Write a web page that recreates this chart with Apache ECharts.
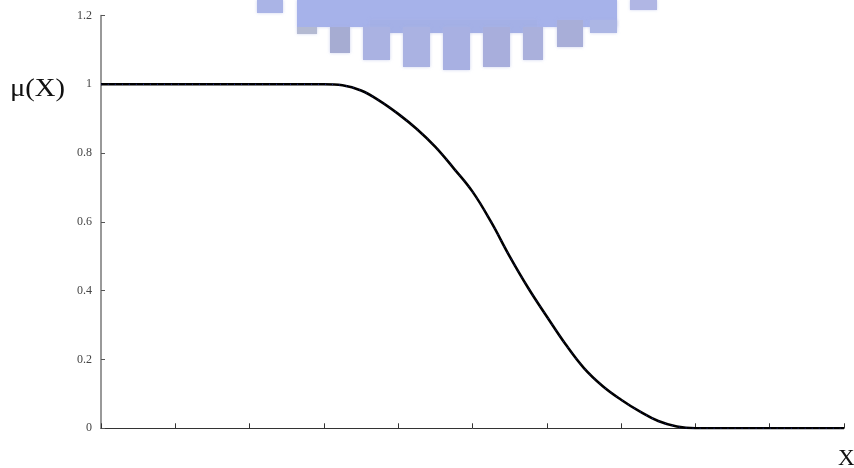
<!DOCTYPE html>
<html>
<head>
<meta charset="utf-8">
<script src="https://cdn.jsdelivr.net/npm/echarts@6/dist/echarts.min.js"></script>
<style>
  html, body { margin: 0; padding: 0; background: #fff; }
  #chart { width: 854px; height: 468px; }
</style>
</head>
<body>
<div id="chart"></div>
<script>
// Membership function mu(X): flat at 1, S-shaped fall, flat at 0
const xValues = [0, 2.75, 3.0, 3.25, 3.5, 3.75, 4.0, 4.25, 4.5, 4.75, 5.0, 5.25, 5.5, 5.75, 6.0, 6.25, 6.5, 6.75, 7.0, 7.25, 7.5, 7.75, 8.0, 8.25, 10];
const muValues = [1, 1, 1, 0.997, 0.982, 0.952, 0.914, 0.870, 0.818, 0.755, 0.688, 0.600, 0.500, 0.408, 0.325, 0.245, 0.175, 0.123, 0.083, 0.049, 0.021, 0.005, 0, 0, 0];
const yTicks = [0, 0.2, 0.4, 0.6, 0.8, 1, 1.2];
const yAxisTitle = 'μ(X)';
const xAxisTitle = 'X';

const points = xValues.map((x, i) => [x, muValues[i]]);

// Faded emblem band across the top edge
const emblemBlocks = [
  [257, 0, 26, 13, '#aab4e6'], [297, 0, 320, 27, '#a6b2ea'], [630, 0, 27, 10, '#b0b6e4'],
  [370, 20, 167, 13, '#a4b0e6'], [297, 27, 20, 7, '#b4bad2'],
  [330, 27, 20, 26, '#a6acd2'], [363, 27, 27, 33, '#aab2e2'], [403, 27, 27, 40, '#aab2e2'],
  [443, 27, 27, 43, '#a8b0e2'], [483, 27, 27, 40, '#a8aedc'], [523, 27, 20, 33, '#aab0dc'],
  [557, 20, 26, 27, '#a8aed8'], [590, 20, 27, 13, '#acb6e4']
];

const chart = echarts.init(document.getElementById('chart'), null, { renderer: 'canvas' });
const serif = '"Liberation Serif", "Times New Roman", serif';

chart.setOption({
  animation: false,
  backgroundColor: '#ffffff',
  grid: { left: 101, right: 10, top: 15.5, bottom: 39.7, containLabel: false },
  xAxis: {
    type: 'value',
    min: 0,
    max: 10,
    interval: 1,
    axisLine: { show: true, onZero: false, lineStyle: { color: '#333', width: 1 } },
    axisTick: { show: true, inside: true, length: 5, lineStyle: { color: '#333' } },
    axisLabel: { show: false },
    splitLine: { show: false }
  },
  yAxis: {
    type: 'value',
    min: yTicks[0],
    max: yTicks[yTicks.length - 1],
    interval: 0.2,
    axisLine: { show: true, lineStyle: { color: '#777', width: 1.5 } },
    axisTick: { show: true, inside: true, length: 4, lineStyle: { color: '#555' } },
    axisLabel: {
      margin: 9,
      fontFamily: serif,
      fontSize: 12,
      color: '#444',
      formatter: v => String(+v.toFixed(1))
    },
    splitLine: { show: false }
  },
  graphic: [
    {
      type: 'group',
      silent: true,
      z: -1,
      children: emblemBlocks.map(b => ({
        type: 'rect',
        shape: { x: b[0], y: b[1], width: b[2], height: b[3] },
        style: { fill: b[4], shadowColor: 'rgba(170,180,230,0.6)', shadowBlur: 3 }
      }))
    },
    {
      type: 'text',
      x: 10,
      y: 76,
      scaleX: 1.1,
      style: { text: yAxisTitle, font: '26px ' + serif, fill: '#111' }
    },
    {
      type: 'text',
      left: 838,
      top: 447,
      style: { text: xAxisTitle, font: '23px ' + serif, fill: '#111' }
    }
  ],
  series: [
    {
      type: 'line',
      data: points,
      smooth: 0.4,
      showSymbol: false,
      lineStyle: { color: '#000', width: 2.6 },
      z: 3
    },
    {
      type: 'line',
      data: points,
      smooth: 0.4,
      showSymbol: false,
      lineStyle: { color: '#1a2490', width: 1, type: [1, 6] },
      z: 4
    }
  ]
});
</script>
</body>
</html>
